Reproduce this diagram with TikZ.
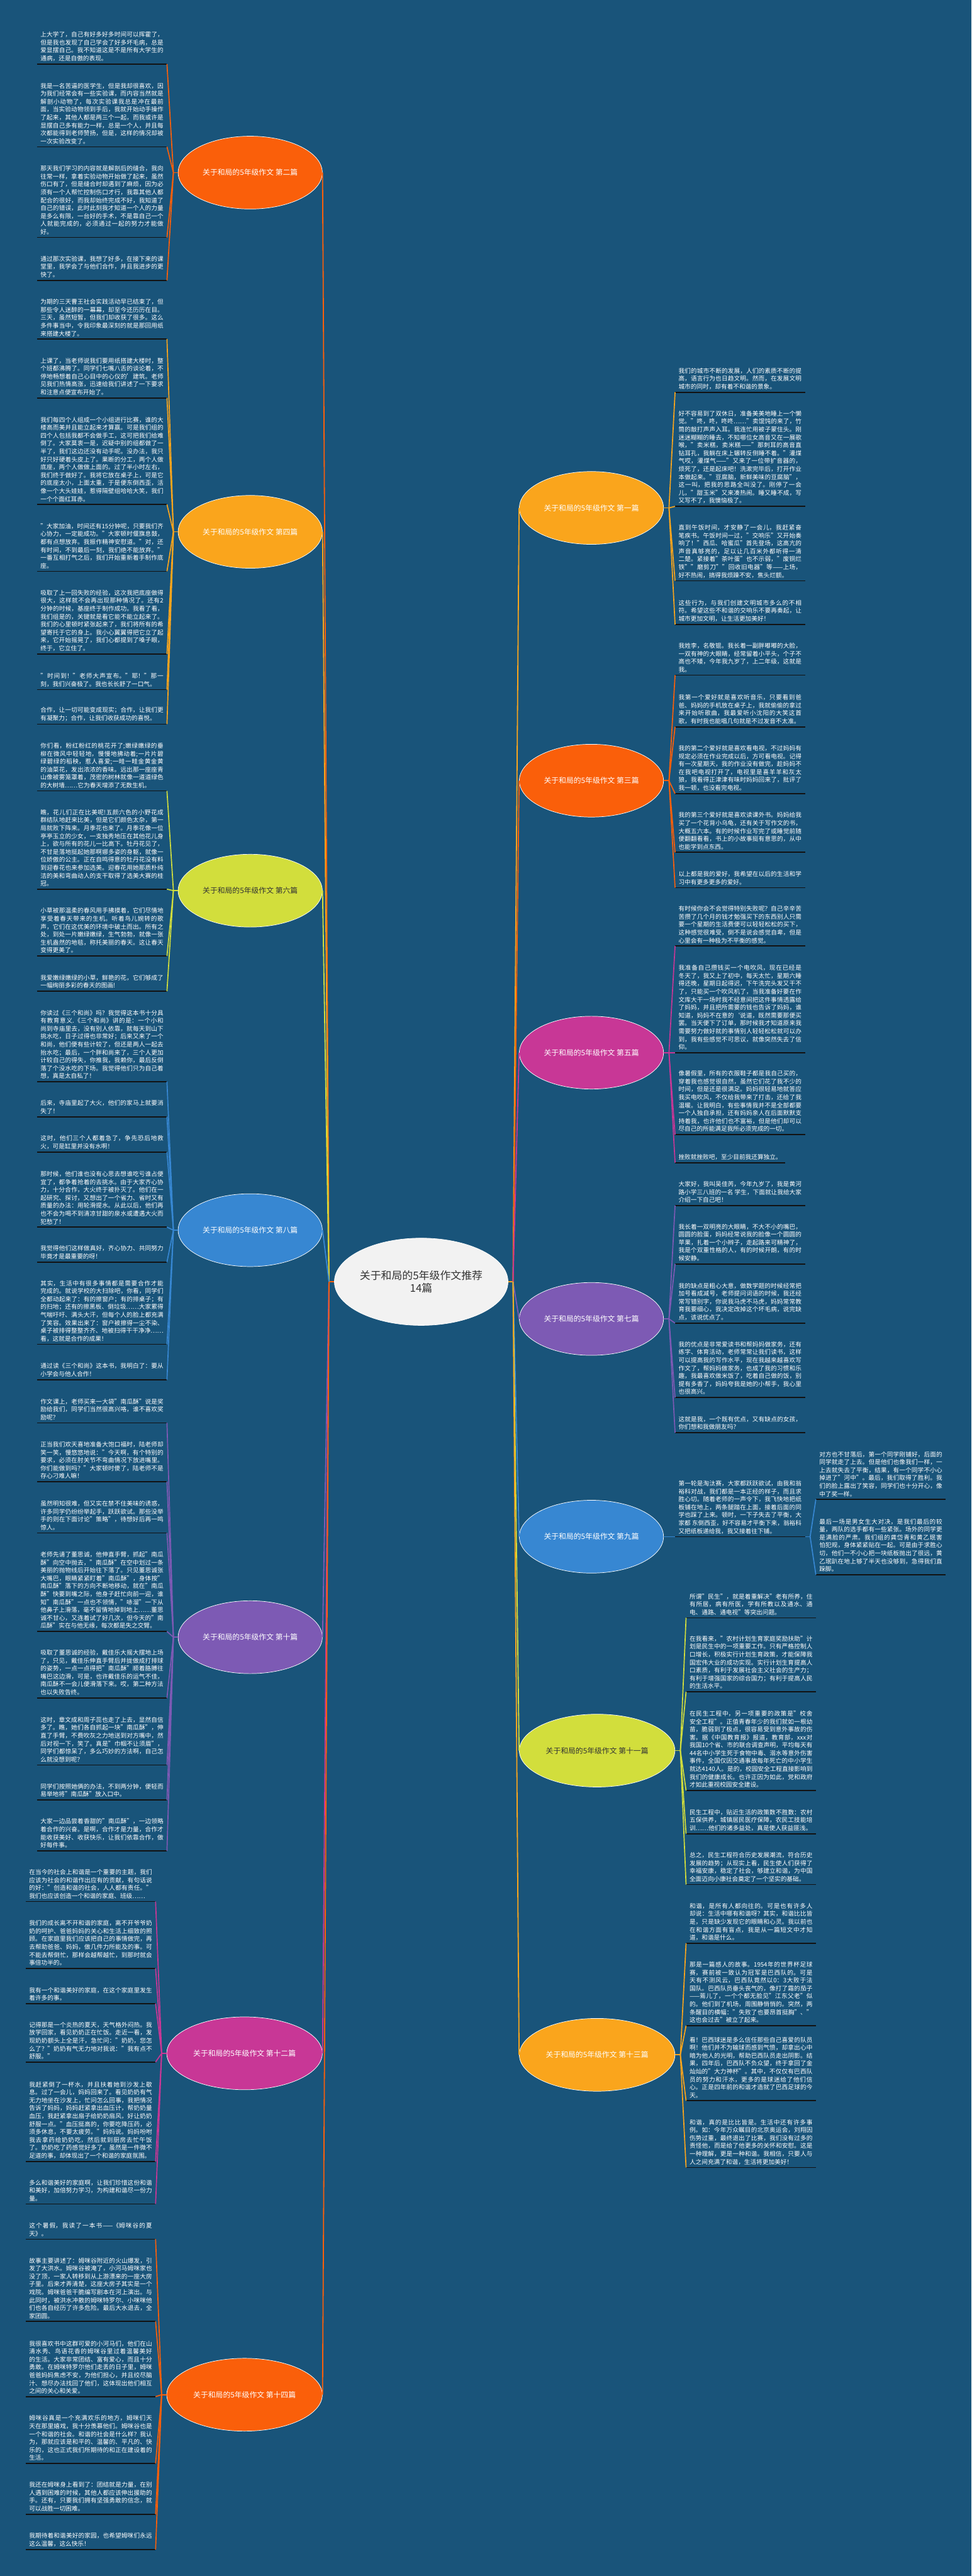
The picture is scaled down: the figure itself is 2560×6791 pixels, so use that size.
\documentclass[tikz,border=0pt]{standalone}
\usepackage{fontspec}
\setmainfont{Noto Sans CJK SC}
\usetikzlibrary{shapes.geometric}
\XeTeXlinebreaklocale "zh"
\XeTeXlinebreakskip=0pt plus 0.6pt
\setlength{\parindent}{0pt}
\definecolor{bgBlue}{RGB}{25,84,122}
\definecolor{cOrange}{RGB}{250,95,10}
\definecolor{cAmber}{RGB}{250,165,28}
\definecolor{cLime}{RGB}{210,222,60}
\definecolor{cBlue}{RGB}{55,135,210}
\definecolor{cPurple}{RGB}{125,90,180}
\definecolor{cMagenta}{RGB}{200,55,150}
\definecolor{cRoot}{RGB}{242,242,242}
\definecolor{cDark}{RGB}{51,51,51}
\definecolor{cLine}{RGB}{18,18,18}
\newcommand{\leafFont}{\fontsize{4}{5.22}\selectfont}
\newcommand{\branchFont}{\fontsize{4.9}{6}\selectfont}

\begin{document}
\begin{tikzpicture}
[x=0.25pt,y=-0.25pt,
  leafL/.style={anchor=south east,text width=81pt,align=justify,inner xsep=2.1pt,
    inner ysep=1.6pt,font=\leafFont,text=white},
  leafR/.style={leafL,anchor=south west},
  shortR/.style={leafR,text width=,align=left},
  uline/.style={draw=cLine,line width=0.7pt},
  twig/.style={line width=0.7pt},
  trunk/.style={line width=0.75pt},
  branch/.style={ellipse,draw=white,line width=0.3pt,minimum width=95pt,
    minimum height=48pt,inner sep=0pt,font=\branchFont,text=white},
  wide/.style={minimum width=102.5pt},
  rootNode/.style={ellipse,draw=white,line width=0.3pt,fill=cRoot,minimum width=114pt,
    minimum height=57.5pt,inner sep=0pt,align=center,text=cDark,
    font=\fontsize{7}{8.6}\selectfont}]
\path[use as bounding box,fill=bgBlue] (0,0) rectangle (2560,6791);

%% root
\node (root) [rootNode] at (1110,3379) {关于和局的5年级作文推荐\\14篇};
\coordinate (hl) at (867,3379);
\coordinate (hr) at (1352,3379);

%% branches, left side
\node (b2) [branch,fill=cOrange,anchor=east] at (850,455) {关于和局的5年级作文 第二篇};
\node (b4) [branch,fill=cAmber,anchor=east] at (850,1402) {关于和局的5年级作文 第四篇};
\node (b6) [branch,fill=cLime,text=cDark,anchor=east] at (850,2348) {关于和局的5年级作文 第六篇};
\node (b8) [branch,fill=cBlue,anchor=east] at (850,3243) {关于和局的5年级作文 第八篇};
\node (b10) [branch,fill=cPurple,anchor=east] at (850,4316) {关于和局的5年级作文 第十篇};
\node (b12) [branch,wide,fill=cMagenta,anchor=east] at (850,5413) {关于和局的5年级作文 第十二篇};
\node (b14) [branch,wide,fill=cOrange,anchor=east] at (850,6313) {关于和局的5年级作文 第十四篇};
%% branches, right side
\node (b1) [branch,fill=cAmber,anchor=west] at (1368,1339) {关于和局的5年级作文 第一篇};
\node (b3) [branch,fill=cOrange,anchor=west] at (1368,2058) {关于和局的5年级作文 第三篇};
\node (b5) [branch,fill=cMagenta,anchor=west] at (1368,2775) {关于和局的5年级作文 第五篇};
\node (b7) [branch,fill=cPurple,anchor=west] at (1368,3477) {关于和局的5年级作文 第七篇};
\node (b9) [branch,fill=cBlue,anchor=west] at (1368,4051) {关于和局的5年级作文 第九篇};
\node (b11) [branch,wide,fill=cLime,text=cDark,anchor=west] at (1368,4615) {关于和局的5年级作文 第十一篇};
\node (b13) [branch,wide,fill=cAmber,anchor=west] at (1368,5417) {关于和局的5年级作文 第十三篇};

%% root to branches
\draw[trunk,cOrange] (root.west) -- (hl);
\draw[trunk,cAmber] (root.east) -- (hr);
\foreach \b/\c in {b2/cOrange,b4/cAmber,b6/cLime,b8/cBlue,b10/cPurple,b12/cMagenta,b14/cOrange}
  \draw[trunk,\c] (hl) -- (\b.east);
\foreach \b/\c in {b1/cAmber,b3/cOrange,b5/cMagenta,b7/cPurple,b9/cBlue,b11/cLime,b13/cAmber}
  \draw[trunk,\c] (hr) -- (\b.west);

%% hubs
\foreach \b/\x/\y in {2/457/455,4/457/1402,6/457/2348,8/457/3243,10/457/4316,12/426/5413,14/426/6313}
  \coordinate (h\b) at (\x,\y);
\foreach \b/\x/\y in {1/1763/1339,3/1763/2058,5/1763/2775,7/1763/3477,9/1763/4051,11/1793/4615,13/1793/5417}
  \coordinate (h\b) at (\x,\y);
\coordinate (h9s) at (2135,4051);

%% 第二篇
\node (t2a) [leafL] at (440,169) {上大学了，自己有好多好多时间可以挥霍了，但是我也发现了自己学会了好多坏毛病，总是爱显摆自己。我不知道这是不是所有大学生的通病，还是自傲的表现。};
\node (t2b) [leafL] at (440,387) {我是一名苦逼的医学生，但是我却很喜欢，因为我们经常会有一些实验课，而内容当然就是解剖小动物了，每次实验课我总是冲在最前面，当实验动物领到手后，我就开始动手操作了起来，其他人都是两三个一起，而我或许是显摆自己多有能力一样，总是一个人，并且每次都能得到老师赞扬，但是，这样的情况却被一次实验改变了。};
\node (t2c) [leafL] at (440,626) {那天我们学习的内容就是解剖后的缝合，我向往常一样，拿着实验动物开始做了起来，虽然伤口有了，但是缝合时却遇到了麻烦，因为必须有一个人帮忙控制伤口才行，我靠其他人都配合的很好，而我却始终完成不好，我知道了自己的错误，此时此刻我才知道一个人的力量是多么有限，一台好的手术，不是靠自己一个人就能完成的，必须通过一起的努力才能做好。};
\node (t2d) [leafL] at (440,739) {通过那次实验课，我想了好多，在接下来的课堂里，我学会了与他们合作，并且我进步的更快了。};

%% 第四篇
\node (t4a) [leafL] at (440,894) {为期的三天曹王社会实践活动早已结束了，但那些令人迷醉的一幕幕，却至今还历历在目。三天，虽然短暂，但我们却收获了很多。这么多件事当中，令我印象最深刻的就是那回用纸来搭建大楼了。};
\node (t4b) [leafL] at (440,1049) {上课了，当老师说我们要用纸搭建大楼时，整个班都沸腾了。同学们七嘴八舌的谈论着，不停地畅想着自己心目中的心仪的'建筑。老师见我们热情高涨，迅速给我们讲述了一下要求和注意点便宣布开始了。};
\node (t4c) [leafL] at (440,1330) {我们每四个人组成一个小组进行比赛，谁的大楼高而美并且能立起来才算赢。可是我们组的四个人包括我都不会做手工，这可把我们给难倒了。大家莫衷一是，迟疑中别的组都做了一半了，我们这边还没有动手呢。没办法，我只好只好硬着头皮上了。果断的分工，两个人做底座，两个人做做上面的。过了半小时左右，我们终于做好了。我将它放在桌子上，可是它的底座太小，上面太重，于是便东倒西歪，活像一个大头娃娃，惹得隔壁组哈哈大笑，我们一个个面红耳赤。};
\node (t4d) [leafL] at (440,1506) {"大家加油，时间还有15分钟呢，只要我们齐心协力，一定能成功。"大家顿时偃旗息鼓，都有点想放弃。我振作精神安慰道。"对，还有时间，不到最后一刻，我们绝不能放弃。"一番互相打气之后，我们开始重新着手制作底座。};
\node (t4e) [leafL] at (440,1724) {吸取了上一回失败的经验，这次我把底座做得很大，这样就不会再出现那种情况了。还有2分钟的时候，基座终于制作成功。我看了看，我们组是的，关键就是看它能不能立起来了。我们的心里顿时紧张起来了，我们将所有的希望寄托于它的身上。我小心翼翼得把它立了起来，它开始摇晃了，我们心都提到了嗓子眼，终于，它立住了。};
\node (t4f) [leafL] at (440,1818) {"时间到！"老师大声宣布。"耶！"那一刻，我们兴奋极了。我也长长舒了一口气。};
\node (t4g) [leafL] at (440,1909) {合作，让一切可能变成现实；合作，让我们更有凝聚力；合作，让我们收获成功的喜悦。};

%% 第六篇
\node (t6a) [leafL] at (440,2085) {你们看，粉红粉红的桃花开了;嫩绿嫩绿的垂柳在微风中轻轻地，慢慢地拂动着;一片片碧绿碧绿的稻秧，惹人喜爱;一畦一畦金黄金黄的油菜花，发出浓浓的香味。远出那一座座青山像被雾笼罩着，茂密的树林就像一道道绿色的大树墙……它为春天增添了无数生机。};
\node (t6b) [leafL] at (440,2344) {瞧，花儿们正在比美呢!五颜六色的小野花成群结队地赶来比美，但是它们颜色太杂，第一局就败下阵来。月季花也来了。月季花像一位亭亭玉立的少女，一支独秀地压在其他花儿身上，欲与所有的花儿一比高下。牡丹花见了，不甘是落地挺起她那啊娜多姿的身躯，就像一位娇傲的公主。正在自鸣得意的牡丹花没有料到迎春花也来参加选美。迎春花用她那质朴纯洁的美和弯曲动人的支干取得了选美大赛的桂冠。};
\node (t6c) [leafL] at (440,2520) {小草被那温柔的春风用手拂摸着，它们尽情地享受着春天带来的生机。听着鸟儿婉转的歌声，它们在这优美的环境中破土而出。所有之处，到处一片嫩绿嫩绿，生气勃勃，就像一张生机盎然的地毯，称托美丽的春天。这让春天变得更美了。};
\node (t6d) [leafL] at (440,2613) {我爱嫩绿嫩绿的小草，鲜艳的花，它们够成了一幅绚丽多彩的春天的图画!};

%% 第八篇
\node (t8a) [leafL] at (440,2852) {你读过《三个和尚》吗？我觉得这本书十分具有教育意义.《三个和尚》讲的是：一个小和尚到寺庙里去，没有别人依靠，就每天到山下挑水吃，日子过得也非常好；后来又来了一个和尚，他们便有些计较了，但还是两人一起去抬水吃；最后，一个胖和尚来了，三个人更加计较自己的得失，你推我，我赖你，最后反倒落了个没水吃的下场。我觉得他们只为自己着想，真是太自私了！};
\node (t8b) [leafL] at (440,2944) {后来，寺庙里起了大火，他们的家马上就要消失了！};
\node (t8c) [leafL] at (440,3037) {这时，他们三个人都着急了，争先恐后地救火，可是缸里并没有水啊！};
\node (t8d) [leafL] at (440,3235) {那时候，他们谁也没有心思去想谁吃亏谁占便宜了，都争着抢着的去挑水。由于大家齐心协力，十分合作，大火终于被扑灭了。他们在一起研究、探讨，又想出了一个省力、省时又有质量的办法：用轮滑提水。从此以后，他们再也不会为喝不到清凉甘甜的泉水或遭遇大火而犯愁了！};
\node (t8e) [leafL] at (440,3327) {我觉得他们这样做真好，齐心协力、共同努力毕竟才是最重要的呀！};
\node (t8f) [leafL] at (440,3544) {其实，生活中有很多事情都是需要合作才能完成的。就说学校的大扫除吧，你看，同学们全都动起来了：有的擦窗户；有的排桌子；有的扫地；还有的擦黑板、倒垃圾……大家累得气喘吁吁、满头大汗，但每个人的脸上都充满了笑容。效果出来了：窗户被擦得一尘不染、桌子被排得整整齐齐、地被扫得干干净净……看，这就是合作的成果！};
\node (t8g) [leafL] at (440,3637) {通过读《三个和尚》这本书，我明白了：要从小学会与他人合作！};

%% 第十篇
\node (t10a) [leafL] at (440,3751) {作文课上，老师买来一大袋"南瓜酥"说是奖励给我们，同学们当然很高兴咯，谁不喜欢奖励呢？};
\node (t10b) [leafL] at (440,3906) {正当我们欢天喜地准备大饱口福时，陆老师却笑一笑，慢悠悠地说："今天啊，有个特别的要求，必须在肘关节不弯曲情况下放进嘴里。你们能做到吗？"大家顿时傻了，陆老师不是存心刁难人嘛！};
\node (t10c) [leafL] at (440,4041) {虽然明知很难，但又实在禁不住美味的诱惑，许多同学仍纷纷举起手，跃跃欲试。那些没举手的则在下面讨论"策略"，待想好后再一鸣惊人。};
\node (t10d) [leafL] at (440,4301) {老师先请了董思诚，他伸直手臂，抓起"南瓜酥"向空中抛去，"南瓜酥"在空中划过一条美丽的抛物线后开始往下落了。只见董思诚张大嘴巴，眼睛紧紧盯着"南瓜酥"，身体按"南瓜酥"落下的方向不断地移动，就在"南瓜酥"快要到嘴之际，他身子赶忙向前一迎，谁知"南瓜酥"一点也不领情，"哧溜"一下从他鼻子上滑落，毫不留情地掉到地上……董思诚不甘心，又连着试了好几次，但今天的"南瓜酥"实在与他无缘，每次都是失之交臂。};
\node (t10e) [leafL] at (440,4476) {吸取了董思诚的经验，戴佳乐大摇大摆地上场了，只见，戴佳乐伸直手臂后并拢做成打排球的姿势，一点一点得把"南瓜酥"顺着胳膊往嘴巴这边滑，可是，也许戴佳乐的运气不佳，南瓜酥不一会儿便滑落下来。哎，第二种方法也以失败告终。};
\node (t10f) [leafL] at (440,4653) {这时，章文成和周子蕊也走了上去，显然自信多了。瞧，她们各自抓起一块"南瓜酥"，伸直了手臂，不费吹灰之力地送到对方嘴中，然后对视一下，笑了。真是"巾帼不让须眉"，同学们都惊呆了，多么巧妙的方法啊，自己怎么就没想到呢？};
\node (t10g) [leafL] at (440,4745) {同学们按照她俩的办法，不到两分钟，便轻而易举地将"南瓜酥"放入口中。};
\node (t10h) [leafL] at (440,4879) {大家一边品尝着香甜的"南瓜酥"，一边领略着合作的兴奋。是啊，合作才是力量，合作才能收获美好、收获快乐，让我们依靠合作，做好每件事。};

%% 第十二篇
\node (t12a) [leafL] at (410,5013) {在当今的社会上和谐是一个重要的主题，我们应该为社会的和谐作出应有的贡献，有句话说的好："创造和谐的社会，人人都有责任。"我们也应该创造一个和谐的家庭、班级……};
\node (t12b) [leafL] at (410,5189) {我们的成长离不开和谐的家庭，离不开爷爷奶奶的呵护、爸爸妈妈的关心和生活上细致的照顾。在家庭里我们应该把自己的事情做完，再去帮助爸爸、妈妈，做几件力所能及的事。可不能去帮倒忙，那样会越帮越忙，到那时就会事倍功半的。};
\node (t12c) [leafL] at (410,5282) {我有一个和谐美好的家庭，在这个家庭里发生着许多的事。};
\node (t12d) [leafL] at (410,5436) {记得那是一个炎热的夏天，天气格外闷热。我放学回家，看见奶奶正在忙饭。走近一看，发现奶奶额头上全是汗，急忙问："奶奶，您怎么了？"奶奶有气无力地对我说："我有点不舒服。"};
\node (t12e) [leafL] at (410,5698) {我赶紧倒了一杯水，并且扶着她到沙发上歇息。过了一会儿，妈妈回来了。看见奶奶有气无力地坐在沙发上，忙问怎么回事，我把情况告诉了妈妈，妈妈赶紧拿出血压计，帮奶奶量血压，我赶紧拿出扇子给奶奶扇风，好让奶奶舒服一点。"血压挺高的，你要吃降压药，必须多休息，不要太疲劳。"妈妈说。妈妈吩咐我去拿药给奶奶吃，然后就到厨房去忙午饭了。奶奶吃了药感觉好多了。虽然是一件微不足道的事，却体现出了一个和谐的家庭氛围。};
\node (t12f) [leafL] at (410,5810) {多么和谐美好的家庭啊，让我们珍惜这份和谐和美好，加倍努力学习，为构建和谐尽一份力量。};

%% 第十四篇
\node (t14a) [leafL] at (410,5903) {这个暑假，我读了一本书——《姆咪谷的夏天》。};
\node (t14b) [leafL] at (410,6120) {故事主要讲述了：姆咪谷附近的火山爆发，引发了大洪水。姆咪谷被淹了，小河马姆咪家也没了顶，一家人转移到从上游漂来的一座大房子里。后来才弄清楚，这座大房子其实是一个戏院。姆咪爸爸干脆编写剧本在河上演出。与此同时，被洪水冲散的姆咪特罗尔、小咪咪他们也各自经历了许多危险。最后大水退去，全家团圆。};
\node (t14c) [leafL] at (410,6318) {我很喜欢书中这群可爱的小河马们，他们在山清水秀、鸟语花香的姆咪谷里过着温馨美好的生活。大家非常团结、富有爱心，而且十分勇敢。在姆咪特罗尔他们走丢的日子里，姆咪爸爸妈妈焦虑不安，为他们担心，并且绞尽脑汁、想尽办法找回了他们，这体现出他们相互之间的关心和关爱。};
\node (t14d) [leafL] at (410,6494) {姆咪谷真是一个充满欢乐的地方，姆咪们天天在那里嬉戏，我十分羡慕他们。姆咪谷也是一个和谐的社会。和谐的社会是什么样？我认为，那就应该是和平的、温馨的、平凡的、快乐的，这也正式我们所期待的和正在建设着的生活。};
\node (t14e) [leafL] at (410,6628) {我还在姆咪身上看到了：团结就是力量，在别人遇到困难的时候，其他人都应该伸出援助的手。还有，只要我们拥有坚强勇敢的信念，就可以战胜一切困难。};
\node (t14f) [leafL] at (410,6721) {我期待着和谐美好的家园，也希望姆咪们永远这么温馨，这么快乐！};

%% 第一篇
\node (t1a) [leafR] at (1779,1034) {我们的城市不断的发展，人们的素质不断的提高，语言行为也日趋文明。然而，在发展文明城市的同时，却有着不和谐的景象。};
\node (t1b) [leafR] at (1779,1335) {好不容易到了双休日，准备美美地睡上一个懒觉。"咚，咚，咚咚……"卖馄饨的来了，竹筒的敲打声声入耳。我连忙用被子蒙住头。刚迷迷糊糊的睡去，不知哪位女高音又在一展歌喉，"卖米糕，卖米糕——"那刺耳的高音直钻耳孔，我躺在床上辗转反侧睡不着。"灌煤气哎，灌煤气——"又来了一位带扩音器的，烦死了，还是起床吧！洗漱完毕后，打开作业本做起来。"豆腐脑，新鲜美味的豆腐脑"，这一叫，把我的思路全叫没了。刚停了一会儿，"甜玉米"又来凑热闹。睡又睡不成，写又写不了，我懊恼极了。};
\node (t1c) [leafR] at (1779,1531) {直到午饭时间，才安静了一会儿，我赶紧奋笔疾书。午饭时间一过，"交响乐"又开始奏响了！"西瓜、哈蜜瓜"首先登场，这高亢的声音真够亮的，足以让几百米外都听得一清二楚。紧接着"茶叶蛋"也不示弱，"废铜烂铁""磨剪刀""回收旧电器"等——上场，好不热闹，搞得我烦躁不安，焦头烂额。};
\node (t1d) [leafR] at (1779,1646) {这些行为，与我们创建文明城市多么的不相符。希望这些不和谐的交响乐不要再奏起，让城市更加文明，让生活更加美好！};

%% 第三篇
\node (t3a) [leafR] at (1779,1780) {我姓李，名敬锟。我长着一副胖嘟嘟的大脸，一双有神的大眼睛，经常留着小平头，个子不高也不矮，今年我九岁了，上二年级，这就是我。};
\node (t3b) [leafR] at (1779,1916) {我第一个爱好就是喜欢听音乐，只要看到爸爸、妈妈的手机放在桌子上，我就偷偷的拿过来开始听歌曲，我最爱听小沈阳的大笑这首歌，有时我也能唱几句就是不过发音不太准。};
\node (t3c) [leafR] at (1779,2092) {我的第二个爱好就是喜欢看电视，不过妈妈有规定必须在作业完成以后，方可看电视。记得有一次星期天，我的作业没有做完，趁妈妈不在我吧电视打开了，电视里是喜羊羊和灰太狼，我看得正津津有味时妈妈回来了，批评了我一顿，也没看完电视。};
\node (t3d) [leafR] at (1779,2247) {我的第三个爱好就是喜欢读课外书。妈妈给我买了一个花背小乌龟，还有关于写作文的书，大概五六本。有的时候作业写完了或睡觉前随便翻翻看看，书上的小故事挺有意思的，从中也能学到点东西。};
\node (t3e) [leafR] at (1779,2340) {以上都是我的爱好，我希望在以后的生活和学习中有更多更多的爱好。};

%% 第五篇
\node (t5a) [leafR] at (1779,2494) {有时候你会不会觉得特别失败呢？自己辛辛苦苦攒了几个月的钱才勉强买下的东西别人只需要一个星期的生活费便可以轻轻松松的买下，这种感觉很难受，倒不是说会感觉自卑，但是心里会有一种极为不平衡的感觉。};
\node (t5b) [leafR] at (1779,2775) {我准备自己攒钱买一个电吹风，现在已经是冬天了，我又上了初中，每天太忙，星期六睡得还晚，星期日起得迟，下午洗完头发又干不了，只能买一个吹风机了，当我准备好要在作文库大干一场时我不经意间把这件事情透露给了妈妈，并且把所需要的钱也告诉了妈妈，谁知道，妈妈不在意的`说道，既然需要那便买罢。当天便下了订单，那时候我才知道原来我需要努力做好就的事情别人轻轻松松就可以办到，我有些感觉不可思议，就像突然失去了信仰。};
\node (t5c) [leafR] at (1779,2991) {像暑假里，所有的衣服鞋子都是我自己买的，穿着我也感觉很自然，虽然它们花了我不少的时间，但是还是很满足。妈妈很轻易地就答应我买电吹风，不仅给我带来了打击，还给了我温暖。让我明白，有些事情我并不是全部都要一个人独自承担，还有妈妈亲人在后面默默支持着我，也许他们也不富裕，但是他们却可以尽自己的所能满足我所必须完成的一切。};
\node (t5d) [shortR] at (1779,3065) {挫败就挫败吧，至少目前我还算独立。};

%% 第七篇
\node (t7a) [leafR] at (1779,3178) {大家好，我叫吴佳芮，今年九岁了，我是黄河路小学三八班的一名 学生，下面就让我给大家介绍一下自己吧！};
\node (t7b) [leafR] at (1779,3332) {我长着一双明亮的大眼睛，不大不小的嘴巴，圆圆的脸蛋，妈妈经常说我的脸像一个圆圆的苹果，扎着一个小辫子，走起路来可精神了，我是个双重性格的人，有的时候开朗，有的时候安静。};
\node (t7c) [leafR] at (1779,3488) {我的缺点是粗心大意，做数学题的时候经常把加号看成减号，老师提问词语的时候，我还经常写错别字，你说我马虎不马虎，妈妈常常教育我要细心，我决定改掉这个坏毛病，说完缺点，该说优点了。};
\node (t7d) [leafR] at (1779,3684) {我的优点是非常爱读书和帮妈妈做家务，还有练字、体育活动，老师常常让我们读书，这样可以提高我的写作水平，现在我越来越喜欢写作文了，帮妈妈做家务，也成了我的习惯和乐趣，我最喜欢做米饭了，吃着自己做的饭，别提有多香了，妈妈夸我是她的小帮手，我心里也很高兴。};
\node (t7e) [leafR] at (1779,3777) {这就是我，一个既有优点，又有缺点的女孩，你们想和我做朋友吗？};

%% 第九篇
\node (t9a) [leafR] at (1779,4051) {第一轮是淘汰赛，大家都跃跃欲试，由我和翁裕科对战，我们都是一本正经的样子，而且求胜心切。随着老师的一声令下，我飞快地把纸板铺在地上，两条腿踏在上面，接着后面的同学也踩了上来。顿时，一下子失去了平衡，大家都 东倒西歪，好不容易才平衡下来，翁裕科又把纸板递给我，我又接着往下铺。};
\node (t9b) [leafR] at (2150,3953) {对方也不甘落后，第一个同学刚铺好，后面的同学就走了上去。但是他们也像我们一样，一上去就失去了平衡，结果，有一个同学不小心掉进了"河中"。最后，我们取得了胜利。我们的脸上露出了笑容，同学们也十分开心，像中了奖一样。};
\node (t9c) [leafR] at (2150,4151) {最后一场是男女生大对决，是我们最后的较量，两队的选手都有一些紧张。场外的同学更是满脸的严肃。我们组的龚岱青和黄乙珉害怕犯规，身体紧紧贴在一起。可是由于求胜心切，他们一不小心把一块纸板抛出了很远，黄乙珉趴在地上够了半天也没够到，急得我们直跺脚。};

%% 第十一篇
\node (t11a) [leafR] at (1808,4265) {所谓"民生"，就是着重解决"老有所养，住有所居，病有所医，学有所教以及通水、通电、通路、通电视"等突出问题。};
\node (t11b) [leafR] at (1808,4460) {在我看来，"农村计划生育家庭奖励扶助"计划是民生中的一项重要工作。只有严格控制人口增长，积极实行计划生育政策，才能保障我国宏伟大业的成功实现。实行计划生育提高人口素质，有利于发展社会主义社会的生产力；有利于增强国家的综合国力；有利于提高人民的生活水平。};
\node (t11c) [leafR] at (1808,4720) {在民生工程中，另一项重要的政策是"校舍安全工程"。正值青春年少的我们就如一根幼苗，脆弱到了极点，很容易受到意外事故的伤害。据《中国教育报》报道，教育部，xxx对我国10个省、市的联合调查声明，平均每天有44名中小学生死于食物中毒、溺水等意外伤害事件，全国仅因交通事故每年死亡的中小学生就达4140人。是的，校园安全工程直接影响到我们的健康成长。也许正因为如此，党和政府才如此重视校园安全建设。};
\node (t11d) [leafR] at (1808,4834) {民生工程中，贴近生活的政策数不胜数：农村五保供养，城镇居民医疗保障，农民工技能培训……他们的诸多益处，真是使人获益匪浅。};
\node (t11e) [leafR] at (1808,4968) {总之，民生工程符合历史发展潮流，符合历史发展的趋势；从现实上看，民生使人们获得了幸福安康，稳定了社会，够建立和谐，为中国全面迈向小康社会奠定了一个坚实的基础。};

%% 第十三篇
\node (t13a) [leafR] at (1808,5123) {和谐，是所有人都向往的。可是也有许多人却说：生活中哪有和谐呀？其实，和谐比比皆是，只是缺少发现它的眼睛和心灵。我以前也在和谐方面有盲点，我是从一篇短文中才知道，和谐是什么。};
\node (t13b) [leafR] at (1808,5340) {那是一篇感人的故事。1954年的世界杯足球赛，赛前被一致认为冠军是巴西队的。可是天有不测风云，巴西队竟然以0：3大败于法国队。巴西队员垂头丧气的，像打了霜的茄子——蔫儿了，一个个都无脸见"江东父老"似的。他们到了机场，周围静悄悄的。突然，两条醒目的横幅："失败了也要昂首挺胸"、"这也会过去"被立了起来。};
\node (t13c) [leafR] at (1808,5538) {看！巴西球迷是多么信任那些自己喜爱的队员啊！他们并不为输球而感到气愤，却拿出心中暗为他人的光明，帮助巴西队员走出阴影。结果，四年后，巴西队不负众望，终于拿回了金灿灿的"大力神杯"。其中，不仅仅有巴西队员的努力和汗水，更多的是球迷给了他们信心。正是四年前的和谐才造就了巴西足球的今天。};
\node (t13d) [leafR] at (1808,5714) {和谐，真的是比比皆是。生活中还有许多事例。如：今年万众瞩目的北京奥运会，刘翔因伤势过重，最终退出了比赛，我们没有过多的责怪他，而是给了他更多的关怀和安慰。这是一种理解，更是一种和谐。我相信，只要人与人之间充满了和谐，生活将更加美好！};

%% underlines
\foreach \n in {t2a,t2b,t2c,t2d,t4a,t4b,t4c,t4d,t4e,t4f,t4g,t6a,t6b,t6c,t6d,
  t8a,t8b,t8c,t8d,t8e,t8f,t8g,t10a,t10b,t10c,t10d,t10e,t10f,t10g,t10h,
  t12a,t12b,t12c,t12d,t12e,t12f,t14a,t14b,t14c,t14d,t14e,t14f,
  t1a,t1b,t1c,t1d,t3a,t3b,t3c,t3d,t3e,t5a,t5b,t5c,t5d,t7a,t7b,t7c,t7d,t7e,
  t9a,t9b,t9c,t11a,t11b,t11c,t11d,t11e,t13a,t13b,t13c,t13d}
  \draw[uline] (\n.south west) -- (\n.south east);

%% connectors, left side
\foreach \b/\c/\list in {2/cOrange/{t2a,t2b,t2c,t2d},
  4/cAmber/{t4a,t4b,t4c,t4d,t4e,t4f,t4g},
  6/cLime/{t6a,t6b,t6c,t6d},
  8/cBlue/{t8a,t8b,t8c,t8d,t8e,t8f,t8g},
  10/cPurple/{t10a,t10b,t10c,t10d,t10e,t10f,t10g,t10h},
  12/cMagenta/{t12a,t12b,t12c,t12d,t12e,t12f},
  14/cOrange/{t14a,t14b,t14c,t14d,t14e,t14f}}
{
  \draw[twig,\c] (b\b.west) -- (h\b);
  \foreach \n in \list
    \draw[twig,\c] (h\b) -- (\n.south east);
}
%% connectors, right side
\foreach \b/\c/\list in {1/cAmber/{t1a,t1b,t1c,t1d},
  3/cOrange/{t3a,t3b,t3c,t3d,t3e},
  5/cMagenta/{t5a,t5b,t5c,t5d},
  7/cPurple/{t7a,t7b,t7c,t7d,t7e},
  9/cBlue/{t9a},
  11/cLime/{t11a,t11b,t11c,t11d,t11e},
  13/cAmber/{t13a,t13b,t13c,t13d}}
{
  \draw[twig,\c] (b\b.east) -- (h\b);
  \foreach \n in \list
    \draw[twig,\c] (h\b) -- (\n.south west);
}
\draw[twig,cBlue] (t9a.south east) -- (h9s);
\foreach \n in {t9b,t9c}
  \draw[twig,cBlue] (h9s) -- (\n.south west);
\end{tikzpicture}
\end{document}
